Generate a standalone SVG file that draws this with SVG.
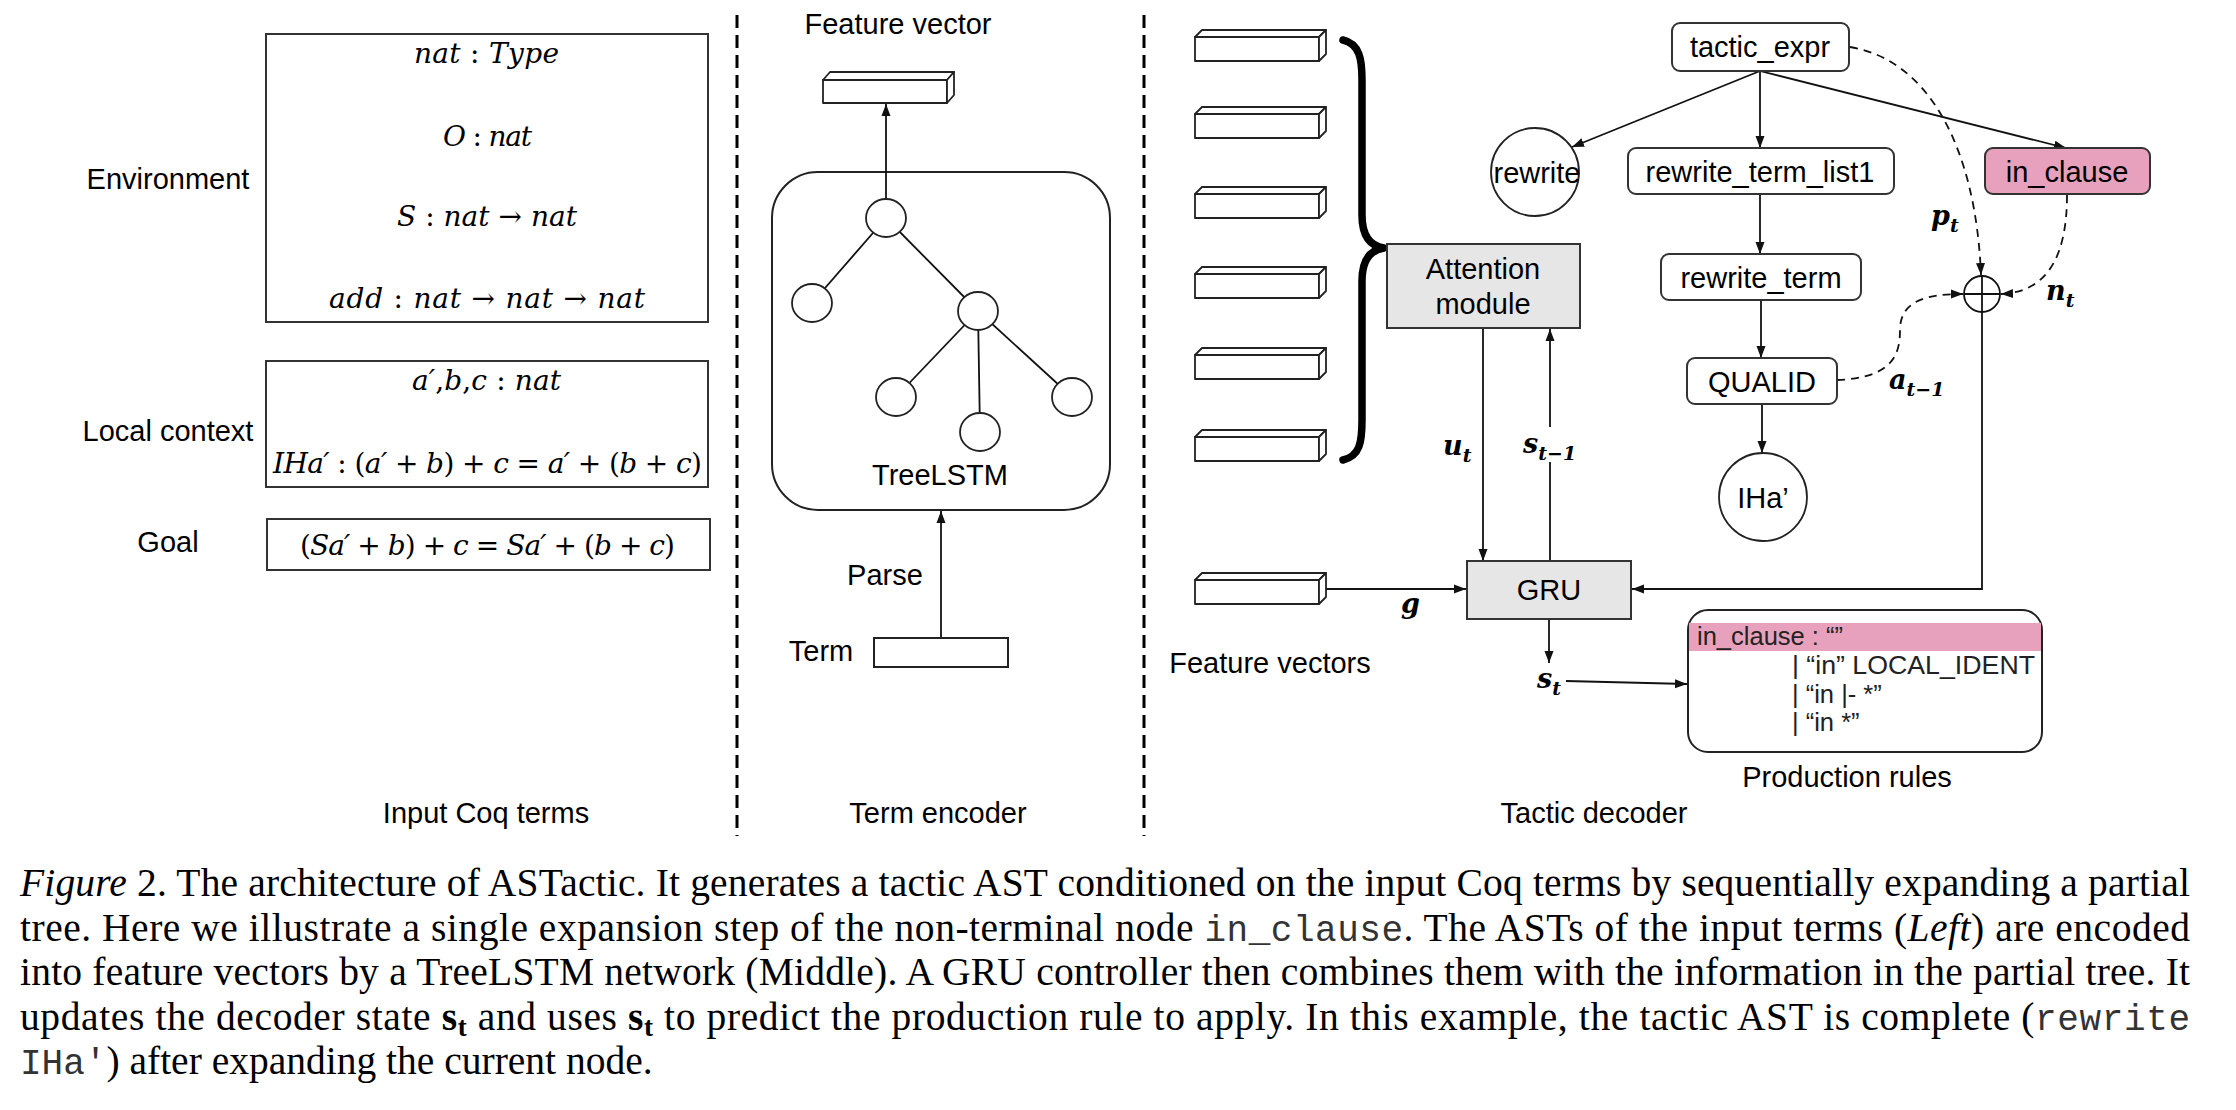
<svg xmlns="http://www.w3.org/2000/svg" width="2236" height="1110" viewBox="0 0 2236 1110">
<defs>
<style>
.lbl{font-family:"Liberation Sans",Arial,sans-serif;font-size:29px;fill:#000}
.node{font-family:"Liberation Sans",Arial,sans-serif;font-size:29px;fill:#000;text-anchor:middle}
.math{font-family:"DejaVu Serif","Liberation Serif",serif;font-style:italic;font-size:28px;fill:#000}
.up{font-style:normal}
.bm{font-family:"DejaVu Serif","Liberation Serif",serif;font-style:italic;font-weight:bold;font-size:27px;fill:#000}
.sub{font-size:19px}
.cap{font-family:"Liberation Serif","Times New Roman",serif;font-size:39.5px;fill:#000}
.mono{font-family:"Liberation Mono","Courier New",monospace;font-size:36px;fill:#333}
.rule{font-family:"Liberation Sans",Arial,sans-serif;font-size:25.5px;fill:#222}
.box{fill:#fff;stroke:#333;stroke-width:2}
.rbox{fill:#fff;stroke:#333;stroke-width:2}
.gray{fill:#e7e6e6;stroke:#333;stroke-width:2}
.pink{fill:#e8a1bd;stroke:#333;stroke-width:2}
.circ{fill:#fff;stroke:#222;stroke-width:1.8}
.ln{fill:none;stroke:#111;stroke-width:1.8}
.arr{fill:none;stroke:#111;stroke-width:1.8;marker-end:url(#ah)}
.dash{fill:none;stroke:#111;stroke-width:1.8;stroke-dasharray:8 6;marker-end:url(#ah)}
.sep{fill:none;stroke:#000;stroke-width:3;stroke-dasharray:13 7}
.vec{fill:#fff;stroke:#222;stroke-width:1.8;stroke-linejoin:round}
</style>
<marker id="ah" viewBox="0 0 12 10" refX="12" refY="5" markerWidth="12" markerHeight="10" markerUnits="userSpaceOnUse" orient="auto">
<path d="M0,0.5 L12,5 L0,9.5 z" fill="#111"/>
</marker>
<g id="vecshape">
<rect x="0" y="0" width="124" height="24" class="vec"/>
<path d="M0,0 L7,-7 L131,-7 L124,0 Z" class="vec"/>
<path d="M124,0 L131,-7 L131,17 L124,24 Z" class="vec"/>
</g>
</defs>
<rect width="2236" height="1110" fill="#fff"/>

<!-- separators -->
<g id="separators">
<line x1="737" y1="15" x2="737" y2="836" class="sep"/>
<line x1="1144" y1="15" x2="1144" y2="836" class="sep"/>
</g>

<!-- Left panel -->
<g id="environment">
<text class="lbl" x="168" y="189" text-anchor="middle">Environment</text>
<rect x="266" y="34" width="442" height="288" class="box"/>
<text class="math" x="414" y="63" textLength="145" lengthAdjust="spacing">nat <tspan class="up">:</tspan> Type</text>
<text class="math" x="443" y="146" textLength="89" lengthAdjust="spacing">O <tspan class="up">:</tspan> nat</text>
<text class="math" x="397" y="226" textLength="180" lengthAdjust="spacing">S <tspan class="up">:</tspan> nat  <tspan class="up">→</tspan> nat</text>
<text class="math" x="329" y="308" textLength="316" lengthAdjust="spacing">add <tspan class="up">:</tspan> nat  <tspan class="up">→</tspan>  nat  <tspan class="up">→</tspan> nat</text>
</g>
<g id="local-context">
<text class="lbl" x="168" y="441" text-anchor="middle">Local context</text>
<rect x="266" y="361" width="442" height="126" class="box"/>
<text class="math" x="412" y="390" textLength="149" lengthAdjust="spacing">a′<tspan class="up">,</tspan>b<tspan class="up">,</tspan>c <tspan class="up">:</tspan> nat</text>
<text class="math" x="273" y="473" textLength="429" lengthAdjust="spacing">IHa′ <tspan class="up">: (</tspan>a′ <tspan class="up">+</tspan> b<tspan class="up">) +</tspan> c <tspan class="up">=</tspan> a′ <tspan class="up">+ (</tspan>b <tspan class="up">+</tspan> c<tspan class="up">)</tspan></text>
</g>
<g id="goal">
<text class="lbl" x="168" y="552" text-anchor="middle">Goal</text>
<rect x="267" y="519" width="443" height="51" class="box"/>
<text class="math" x="300" y="555" textLength="375" lengthAdjust="spacing"><tspan class="up">(</tspan>Sa′ <tspan class="up">+</tspan> b<tspan class="up">) +</tspan> c <tspan class="up">=</tspan> Sa′ <tspan class="up">+ (</tspan>b <tspan class="up">+</tspan> c<tspan class="up">)</tspan></text>
</g>
<text class="lbl" x="486" y="823" text-anchor="middle">Input Coq terms</text>

<!-- TreeLSTM container (drawn under the connectors) -->
<g id="treelstm-box">
<rect x="772" y="172" width="338" height="338" rx="46" ry="46" fill="#fff" stroke="#222" stroke-width="2"/>
</g>

<!-- Connectors -->
<g id="connectors">
<!-- term encoder -->
<line x1="886" y1="198" x2="886" y2="104" class="arr"/>
<line x1="941" y1="638" x2="941" y2="511" class="arr"/>
<line x1="886" y1="218" x2="812" y2="303" class="ln"/>
<line x1="886" y1="218" x2="978" y2="311" class="ln"/>
<line x1="978" y1="311" x2="896" y2="397" class="ln"/>
<line x1="978" y1="311" x2="980" y2="432" class="ln"/>
<line x1="978" y1="311" x2="1072" y2="397" class="ln"/>
<!-- tactic tree -->
<line x1="1760" y1="71" x2="1572" y2="147" class="arr"/>
<line x1="1760" y1="71" x2="1760" y2="148" class="arr"/>
<line x1="1760" y1="71" x2="2066" y2="148" class="arr"/>
<line x1="1760" y1="194" x2="1760" y2="254" class="arr"/>
<line x1="1761" y1="300" x2="1761" y2="358" class="arr"/>
<line x1="1762" y1="404" x2="1762" y2="453" class="arr"/>
<!-- dashed inputs to oplus -->
<path d="M1850,47 C1930,60 1976,150 1981,275" class="dash"/>
<path d="M2067,195 C2067,252 2050,292 2001,294" class="dash"/>
<path d="M1837,380 C1895,378 1900,352 1900,330 C1900,300 1928,294 1963,294" class="dash"/>
<!-- oplus to GRU -->
<path d="M1982,312 L1982,589 L1632,589" class="arr"/>
<!-- attention / GRU -->
<line x1="1483" y1="328" x2="1483" y2="561" class="arr"/>
<line x1="1550" y1="561" x2="1550" y2="462" class="ln"/>
<line x1="1550" y1="427" x2="1550" y2="329" class="arr"/>
<line x1="1326" y1="589" x2="1466" y2="589" class="arr"/>
<line x1="1549" y1="619" x2="1549" y2="663" class="arr"/>
<line x1="1566" y1="681" x2="1687" y2="684" class="arr"/>
<!-- brace -->
<path d="M1343,40 C1360,44 1362,60 1362,80 L1362,215 C1362,236 1370,246 1384,248 C1370,250 1362,260 1362,281 L1362,420 C1362,442 1360,456 1343,460" fill="none" stroke="#000" stroke-width="7.5" stroke-linecap="round" stroke-linejoin="round"/>
</g>

<!-- Term encoder nodes -->
<g id="feature-vector">
<text class="lbl" x="898" y="34" text-anchor="middle">Feature vector</text>
<g transform="translate(823,80)">
<rect x="0" y="0" width="124" height="23" class="vec"/>
<path d="M0,0 L7,-8 L131,-8 L124,0 Z" class="vec"/>
<path d="M124,0 L131,-8 L131,15 L124,23 Z" class="vec"/>
</g>
</g>
<g id="treelstm">
<ellipse cx="886" cy="218" rx="20" ry="19" class="circ"/>
<ellipse cx="812" cy="303" rx="20" ry="19" class="circ"/>
<ellipse cx="978" cy="311" rx="20" ry="19" class="circ"/>
<ellipse cx="896" cy="397" rx="20" ry="19" class="circ"/>
<ellipse cx="980" cy="432" rx="20" ry="19" class="circ"/>
<ellipse cx="1072" cy="397" rx="20" ry="19" class="circ"/>
<text class="node" x="940" y="485">TreeLSTM</text>
</g>
<g id="term">
<text class="lbl" x="885" y="585" text-anchor="middle">Parse</text>
<text class="lbl" x="821" y="661" text-anchor="middle">Term</text>
<rect x="874" y="638" width="134" height="29" class="box" style="stroke:#222"/>
</g>
<text class="lbl" x="938" y="823" text-anchor="middle">Term encoder</text>

<!-- Tactic decoder -->
<g id="feature-vectors">
<use href="#vecshape" x="1195" y="37"/>
<use href="#vecshape" x="1195" y="114"/>
<use href="#vecshape" x="1195" y="194"/>
<use href="#vecshape" x="1195" y="274"/>
<use href="#vecshape" x="1195" y="355"/>
<use href="#vecshape" x="1195" y="437"/>
</g>
<g id="attention">
<rect x="1387" y="244" width="193" height="84" class="gray"/>
<text class="node" x="1483" y="279">Attention</text>
<text class="node" x="1483" y="314">module</text>
</g>
<g id="global-vector">
<use href="#vecshape" x="1195" y="580"/>
<text class="lbl" x="1270" y="673" text-anchor="middle">Feature vectors</text>
</g>
<g id="gru">
<rect x="1467" y="561" width="164" height="58" class="gray"/>
<text class="node" x="1549" y="600">GRU</text>
</g>
<g id="tactic_expr">
<rect x="1672" y="23" width="177" height="48" rx="8" class="rbox"/>
<text class="node" x="1760" y="57">tactic_expr</text>
</g>
<g id="rewrite">
<circle cx="1535" cy="172" r="44" class="circ"/>
<text class="node" x="1537" y="183">rewrite</text>
</g>
<g id="rewrite_term_list1">
<rect x="1628" y="148" width="266" height="46" rx="8" class="rbox"/>
<text class="node" x="1760" y="182">rewrite_term_list1</text>
</g>
<g id="in_clause">
<rect x="1985" y="148" width="165" height="46" rx="8" class="pink"/>
<text class="node" x="2067" y="182">in_clause</text>
</g>
<g id="rewrite_term">
<rect x="1661" y="254" width="200" height="46" rx="8" class="rbox"/>
<text class="node" x="1761" y="288">rewrite_term</text>
</g>
<g id="qualid">
<rect x="1687" y="358" width="150" height="46" rx="8" class="rbox"/>
<text class="node" x="1762" y="392">QUALID</text>
</g>
<g id="iha">
<circle cx="1763" cy="497" r="44" class="circ"/>
<text class="node" x="1763" y="508">IHa’</text>
</g>
<g id="oplus">
<circle cx="1982" cy="294" r="18" class="circ" style="stroke:#111"/>
<line x1="1964" y1="294" x2="2000" y2="294" class="ln"/>
<line x1="1982" y1="276" x2="1982" y2="312" class="ln"/>
</g>
<g id="production-rules">
<rect x="1688" y="610" width="354" height="142" rx="20" class="box" style="stroke:#222"/>
<rect x="1689" y="623" width="352" height="28" fill="#e8a1bd"/>
<text class="rule" x="1697" y="645">in_clause : “”</text>
<text class="rule" x="1792" y="674" textLength="243" lengthAdjust="spacingAndGlyphs">| “in” LOCAL_IDENT</text>
<text class="rule" x="1792" y="703">| “in |- *”</text>
<text class="rule" x="1792" y="731">| “in *”</text>
<text class="lbl" x="1847" y="787" text-anchor="middle">Production rules</text>
</g>
<text class="lbl" x="1594" y="823" text-anchor="middle">Tactic decoder</text>

<!-- math labels -->
<g id="labels">
<text class="bm" x="1443" y="455">u<tspan class="sub" dy="7">t</tspan></text>
<text class="bm" x="1523" y="453">s<tspan class="sub" dy="7">t−1</tspan></text>
<text class="bm" x="1931" y="225">p<tspan class="sub" dy="7">t</tspan></text>
<text class="bm" x="2046" y="300">n<tspan class="sub" dy="7">t</tspan></text>
<text class="bm" x="1889" y="389">a<tspan class="sub" dy="7">t−1</tspan></text>
<text class="bm" x="1401" y="613">g</text>
<text class="bm" x="1537" y="688">s<tspan class="sub" dy="7">t</tspan></text>
</g>

<!-- caption -->
<g id="caption">
<text class="cap" x="20" y="896" textLength="2170" lengthAdjust="spacing"><tspan font-style="italic">Figure</tspan> 2. The architecture of ASTactic. It generates a tactic AST conditioned on the input Coq terms by sequentially expanding a partial</text>
<text class="cap" x="20" y="940.5" textLength="2170" lengthAdjust="spacing">tree. Here we illustrate a single expansion step of the non-terminal node <tspan class="mono">in_clause</tspan>. The ASTs of the input terms (<tspan font-style="italic">Left</tspan>) are encoded</text>
<text class="cap" x="20" y="985" textLength="2170" lengthAdjust="spacing">into feature vectors by a TreeLSTM network (Middle). A GRU controller then combines them with the information in the partial tree. It</text>
<text class="cap" x="20" y="1029.5" textLength="2170" lengthAdjust="spacing">updates the decoder state <tspan font-weight="bold">s</tspan><tspan font-weight="bold" font-size="27" dy="6">t</tspan><tspan dy="-6"> and uses </tspan><tspan font-weight="bold">s</tspan><tspan font-weight="bold" font-size="27" dy="6">t</tspan><tspan dy="-6"> to predict the production rule to apply. In this example, the tactic AST is complete (</tspan><tspan class="mono">rewrite</tspan></text>
<text class="cap" x="20" y="1074"><tspan class="mono">IHa′</tspan>) after expanding the current node.</text>
</g>
</svg>
